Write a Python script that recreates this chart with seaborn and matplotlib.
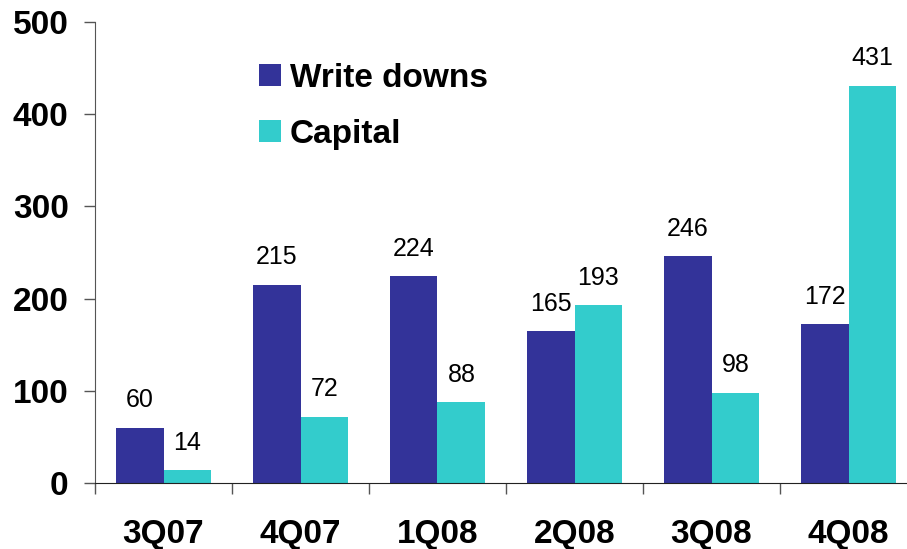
import matplotlib
matplotlib.use("Agg")
import matplotlib.pyplot as plt
import seaborn as sns
import pandas as pd
import numpy as np

quarters = ["3Q07", "4Q07", "1Q08", "2Q08", "3Q08", "4Q08"]
write_downs = [60, 215, 224, 165, 246, 172]
capital = [14, 72, 88, 193, 98, 431]
series_names = ["Write downs", "Capital"]
colors = ["#333399", "#33CCCC"]
yticks = [0, 100, 200, 300, 400, 500]

sns.set_style("white")
plt.rcParams['font.family'] = ['Liberation Sans', 'DejaVu Sans']
plt.rcParams['text.color'] = 'black'

df = pd.DataFrame({
    "Quarter": quarters * 2,
    "Value": write_downs + capital,
    "Series": [series_names[0]] * len(quarters) + [series_names[1]] * len(quarters),
})

fig = plt.figure(figsize=(9.07, 5.49), dpi=100)
ax = fig.add_axes([95 / 907, 66 / 549, 822 / 907, 461 / 549])

sns.barplot(data=df, x="Quarter", y="Value", hue="Series", palette=colors,
            width=0.7, ax=ax, saturation=1, legend=True, linewidth=0)

ax.set_xlim(-0.5, len(quarters) - 0.5)
ax.set_ylim(0, 500)
ax.set_yticks(yticks)
ax.set_yticklabels([str(t) for t in yticks], fontsize=24, fontweight="bold", color="black")
ax.tick_params(axis="y", direction="out", length=8, width=1, color="#555555", pad=11, left=True)

ax.set_xticks(np.arange(-0.5, len(quarters), 1.0))
ax.set_xticklabels([""] * (len(quarters) + 1))
ax.tick_params(axis="x", which="major", direction="out", length=8, width=1, color="#555555", bottom=True)
ax.set_xticks(np.arange(len(quarters)), minor=True)
ax.set_xticklabels(quarters, minor=True, fontsize=24, fontweight="bold", color="black")
ax.tick_params(axis="x", which="minor", length=0, pad=26)

for s in ["top", "right"]:
    ax.spines[s].set_visible(False)
ax.spines["left"].set_color("#555555")
ax.spines["bottom"].set_color("#222222")
ax.set_xlabel("")
ax.set_ylabel("")

for container in ax.containers:
    ax.bar_label(container, labels=[f"{int(v)}" for v in container.datavalues],
                 padding=11, fontsize=18, color="black")

leg = ax.legend(loc="upper left", bbox_to_anchor=(242 / 907, 1 - 46 / 549),
                bbox_transform=fig.transFigure, frameon=False, borderpad=0,
                prop={"size": 24, "weight": "bold"}, handlelength=0.66,
                handleheight=0.66, handletextpad=0.28, labelspacing=0.75)
for t in leg.get_texts():
    t.set_color("black")

fig.savefig("out.png", dpi=100)
